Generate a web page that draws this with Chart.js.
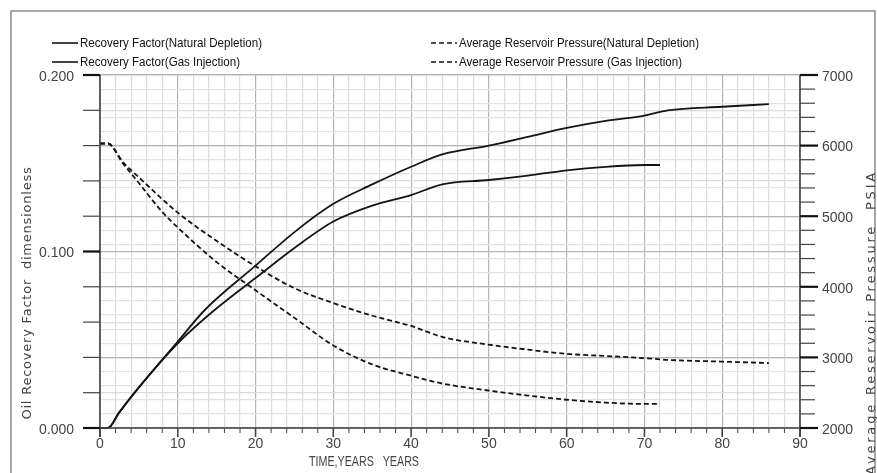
<!DOCTYPE html>
<html lang="en">
<head>
    <meta charset="UTF-8">
    <title>Recovery Factor and Reservoir Pressure</title>
    <script src="https://cdn.jsdelivr.net/npm/chart.js"></script>
    <style>
        html, body { margin: 0; padding: 0; background: #fff; }
        canvas { display: block; }
    </style>
</head>
<body>
    <canvas id="grafico" width="877" height="473"></canvas>

    <script>
        // Valores (anos / fator de recuperação / pressão)
        const anosRfNatural = [0, 1, 2.5, 5, 10, 14.5, 20, 25, 30, 35, 40, 44, 50, 55, 60, 65, 70, 72];
        const rfNatural = [0, 0, 0.009, 0.023, 0.048, 0.066, 0.085, 0.102, 0.117, 0.126, 0.132, 0.138, 0.1405, 0.143, 0.146, 0.148, 0.149, 0.149];

        const anosRfGas = [0, 1, 2.5, 5, 10, 13.5, 20, 25, 30, 35, 40, 44, 50, 55, 60, 65, 70, 73, 80, 86];
        const rfGas = [0, 0, 0.009, 0.023, 0.049, 0.067, 0.092, 0.111, 0.127, 0.138, 0.148, 0.155, 0.160, 0.165, 0.170, 0.174, 0.177, 0.180, 0.182, 0.1835];

        const anosPNatural = [0, 1, 3, 5, 8, 10, 15, 20, 25, 30, 35, 40, 44, 50, 55, 60, 65, 68, 72];
        const pNatural = [6030, 6030, 5740, 5470, 5060, 4840, 4350, 3950, 3560, 3170, 2900, 2740, 2630, 2530, 2460, 2400, 2360, 2345, 2340];

        const anosPGas = [0, 1, 3, 5, 10, 15, 20, 25, 30, 35, 40, 44, 50, 55, 60, 65, 70, 73, 80, 86];
        const pGas = [6030, 6030, 5760, 5550, 5050, 4650, 4290, 3980, 3770, 3590, 3445, 3290, 3180, 3110, 3050, 3020, 2990, 2965, 2940, 2920];

        const rotulos = [
            "Recovery Factor(Natural Depletion)",
            "Recovery Factor(Gas Injection)",
            "Average Reservoir Pressure(Natural Depletion)",
            "Average Reservoir Pressure (Gas Injection)"
        ];

        function pares(xs, ys) {
            return xs.map((x, i) => ({ x: x, y: ys[i] }));
        }

        const corLinha = "#141414";

        function serie(label, dados, eixo, tracejado) {
            return {
                label: label,
                data: dados,
                yAxisID: eixo,
                borderColor: corLinha,
                borderWidth: 1.8,
                borderDash: tracejado,
                pointRadius: 0,
                cubicInterpolationMode: "monotone",
                clip: false
            };
        }

        // Eixos, marcas, rótulos, títulos, legenda e moldura
        const decoracao = {
            id: "decoracao",
            afterDraw(chart) {
                const ctx = chart.ctx;
                const area = chart.chartArea;
                const xs = chart.scales.x, yl = chart.scales.y, yr = chart.scales.y2;
                ctx.save();

                // moldura
                ctx.strokeStyle = "#8a8a8a";
                ctx.lineWidth = 1.5;
                ctx.strokeRect(11, 11, 864, 470);

                // linhas dos eixos
                ctx.strokeStyle = "#444";
                ctx.lineWidth = 1.6;
                ctx.beginPath();
                ctx.moveTo(area.left, area.top); ctx.lineTo(area.left, area.bottom + 9);
                ctx.moveTo(area.left - 17, area.bottom); ctx.lineTo(area.right, area.bottom);
                ctx.moveTo(area.right, area.top); ctx.lineTo(area.right, area.bottom + 9);
                ctx.stroke();

                ctx.fillStyle = "#444";
                ctx.font = "14px 'Liberation Sans', Arial, sans-serif";

                // eixo x
                ctx.textAlign = "center";
                ctx.textBaseline = "middle";
                xs.ticks.forEach(t => {
                    const px = xs.getPixelForValue(t.value);
                    const maior = t.value % 10 === 0;
                    ctx.lineWidth = maior ? 1.6 : 1;
                    ctx.beginPath();
                    ctx.moveTo(px, area.bottom);
                    ctx.lineTo(px, area.bottom + (maior ? 9 : 5));
                    ctx.stroke();
                    if (maior) ctx.fillText(String(t.value), px, area.bottom + 16);
                });

                // eixo esquerdo
                ctx.textAlign = "right";
                yl.ticks.forEach(t => {
                    const py = yl.getPixelForValue(t.value);
                    const maior = Math.abs(t.value * 10 - Math.round(t.value * 10)) < 1e-6;
                    ctx.strokeStyle = maior ? "#111" : "#444";
                    ctx.lineWidth = maior ? 2.2 : 1.2;
                    ctx.beginPath();
                    ctx.moveTo(area.left - 17, py);
                    ctx.lineTo(area.left, py);
                    ctx.stroke();
                    if (maior) ctx.fillText(t.value.toFixed(3), area.left - 26, py + 2);
                });

                // eixo direito
                ctx.textAlign = "left";
                yr.ticks.forEach(t => {
                    const py = yr.getPixelForValue(t.value);
                    const maior = t.value % 1000 === 0;
                    ctx.strokeStyle = maior ? "#111" : "#444";
                    ctx.lineWidth = maior ? 2.2 : 1.2;
                    ctx.beginPath();
                    ctx.moveTo(area.right, py);
                    ctx.lineTo(area.right + (maior ? 18 : 15), py);
                    ctx.stroke();
                    if (maior) ctx.fillText(String(t.value), area.right + 22, py + 2);
                });

                // títulos dos eixos
                ctx.fillStyle = "#444";
                ctx.font = "14px 'Liberation Sans', Arial, sans-serif";
                ctx.textAlign = "center";
                ctx.fillText("TIME,YEARS   YEARS", 364, 462, 110);

                function textoVertical(texto, x, y, largura, alinhar) {
                    ctx.save();
                    ctx.translate(x, y);
                    ctx.rotate(-Math.PI / 2);
                    ctx.letterSpacing = "0px";
                    const w = ctx.measureText(texto).width;
                    const esp = Math.max(0, (largura - w) / texto.length);
                    ctx.letterSpacing = esp.toFixed(2) + "px";
                    ctx.textAlign = alinhar;
                    ctx.fillText(texto, 0, 0);
                    ctx.restore();
                }
                ctx.font = "13px 'DejaVu Sans', sans-serif";
                textoVertical("Oil Recovery Factor  dimensionless", 28, 293, 253, "center");
                textoVertical("Average Reservoir Pressure  PSIA", 872, 170, 305, "right");

                // legenda
                ctx.font = "13px 'Liberation Sans', Arial, sans-serif";
                ctx.fillStyle = "#111";
                ctx.textAlign = "left";
                const posLegenda = [
                    { x: 52, y: 43, w: 182 },
                    { x: 52, y: 62, w: 160 },
                    { x: 431, y: 43, w: 240 },
                    { x: 431, y: 62, w: 223 }
                ];
                chart.data.datasets.forEach((ds, i) => {
                    const p = posLegenda[i];
                    ctx.strokeStyle = corLinha;
                    ctx.lineWidth = 1.6;
                    ctx.setLineDash(ds.borderDash || []);
                    ctx.beginPath();
                    ctx.moveTo(p.x, p.y);
                    ctx.lineTo(p.x + 26, p.y);
                    ctx.stroke();
                    ctx.setLineDash([]);
                    ctx.fillText(ds.label, p.x + 28, p.y, p.w);
                });

                ctx.restore();
            }
        };

        new Chart(document.getElementById("grafico"), {
            type: "line",
            data: {
                datasets: [
                    serie(rotulos[0], pares(anosRfNatural, rfNatural), "y", []),
                    serie(rotulos[1], pares(anosRfGas, rfGas), "y", []),
                    serie(rotulos[2], pares(anosPNatural, pNatural), "y2", [5, 3]),
                    serie(rotulos[3], pares(anosPGas, pGas), "y2", [5, 3])
                ]
            },
            options: {
                responsive: false,
                animation: false,
                devicePixelRatio: 1,
                layout: { padding: { top: 75, left: 0, right: 0, bottom: 0 } },
                plugins: { legend: { display: false }, tooltip: { enabled: false } },
                scales: {
                    x: {
                        type: "linear",
                        min: 0, max: 90,
                        ticks: { stepSize: 2, display: false },
                        grid: {
                            drawTicks: false,
                            color: c => c.tick.value % 10 === 0 ? "#b4b4b4" : "#dcdcdc",
                            lineWidth: 1.2
                        },
                        border: { display: false },
                        afterFit: s => { s.height = 45; }
                    },
                    y: {
                        position: "left",
                        min: 0, max: 0.2,
                        ticks: { stepSize: 0.02, display: false },
                        grid: {
                            drawTicks: false,
                            color: c => Math.abs(c.tick.value * 10 - Math.round(c.tick.value * 10)) < 1e-6 ? "#b4b4b4" : "#dcdcdc",
                            lineWidth: 1.2
                        },
                        border: { display: false },
                        afterFit: s => { s.width = 100; }
                    },
                    y2: {
                        position: "right",
                        min: 2000, max: 7000,
                        ticks: { stepSize: 200, display: false },
                        grid: {
                            drawTicks: false,
                            color: c => c.tick.value % 1000 === 0 ? "#b4b4b4" : "#e2e2e2",
                            lineWidth: 1.2
                        },
                        border: { display: false },
                        afterFit: s => { s.width = 77; }
                    }
                }
            },
            plugins: [decoracao]
        });
    </script>
</body>
</html>
